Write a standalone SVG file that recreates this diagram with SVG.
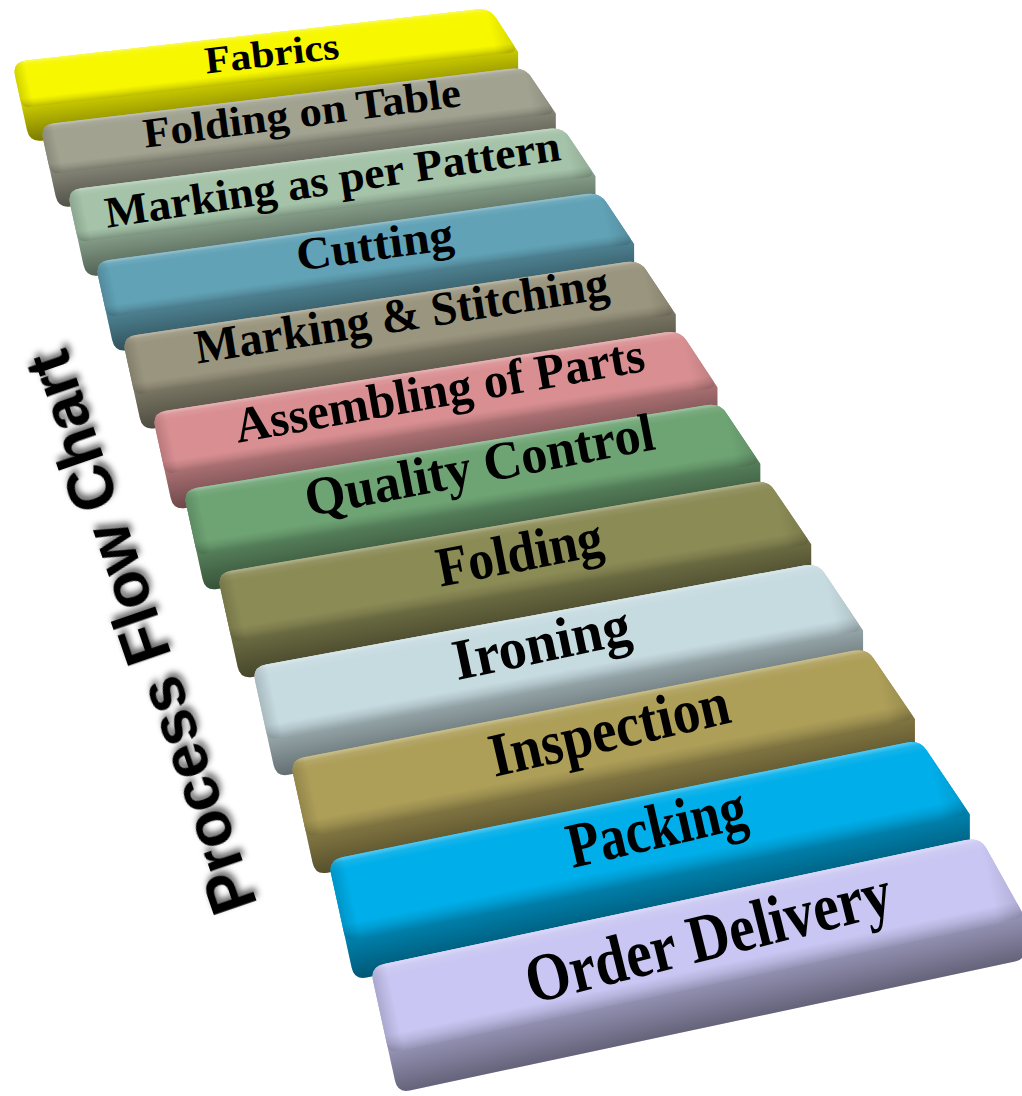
<svg xmlns="http://www.w3.org/2000/svg" width="1022" height="1096" viewBox="0 0 1022 1096">
  <defs>
    <style>
      .lbl { font-family: "Liberation Serif", "DejaVu Serif", serif; font-weight: bold; fill: #000; text-anchor: middle; }
      .title { font-family: "Liberation Sans", "DejaVu Sans", sans-serif; font-weight: bold; font-size: 64px; fill: #000; text-anchor: middle; }
    </style>
    <!-- darkening of the front face of each bar -->
    <linearGradient id="frontShade" x1="0" y1="0" x2="0" y2="1">
      <stop offset="0" stop-color="#000" stop-opacity="0"/>
      <stop offset="0.55" stop-color="#000" stop-opacity="0.18"/>
      <stop offset="1" stop-color="#000" stop-opacity="0.5"/>
    </linearGradient>
    <!-- rounded bevel on the top face -->
    <linearGradient id="topShade" x1="0" y1="0" x2="0" y2="1">
      <stop offset="0" stop-color="#fff" stop-opacity="0.35"/>
      <stop offset="0.06" stop-color="#fff" stop-opacity="0.08"/>
      <stop offset="0.15" stop-color="#fff" stop-opacity="0"/>
      <stop offset="0.8" stop-color="#000" stop-opacity="0"/>
      <stop offset="0.9" stop-color="#000" stop-opacity="0.1"/>
      <stop offset="1" stop-color="#000" stop-opacity="0.25"/>
    </linearGradient>
    <linearGradient id="sideShade" x1="0" y1="0" x2="1" y2="0">
      <stop offset="0" stop-color="#000" stop-opacity="0.15"/>
      <stop offset="0.025" stop-color="#000" stop-opacity="0"/>
      <stop offset="0.96" stop-color="#000" stop-opacity="0"/>
      <stop offset="1" stop-color="#000" stop-opacity="0.12"/>
    </linearGradient>
    <filter id="titleShadow" x="-20%" y="-20%" width="140%" height="140%">
      <feDropShadow dx="4" dy="3" stdDeviation="3" flood-color="#000" flood-opacity="0.6"/>
    </filter>
  </defs>

  <rect width="1022" height="1096" fill="#fff"/>

  <!-- 1 -->
  <g id="step-fabrics">
    <g transform="matrix(1,-0.113,0.22,1,12,62)">
      <path d="M0,14 Q0,0 14,0 L464,0 Q478,0 482,11 L496,46 L490.5,71 Q488.5,80 478.5,80 L12,80 Q0,80 0,68 Z" fill="#f5f500"/>
      <path d="M0,14 Q0,0 14,0 L464,0 Q478,0 482,11 L496,46 L490.5,71 Q488.5,80 478.5,80 L12,80 Q0,80 0,68 Z" fill="url(#frontShade)"/>
      <path d="M0,14 Q0,0 14,0 L464,0 Q478,0 482,11 L493,39 Q496,46 486,46 L8,46 Q0,46 0,38 Z" fill="#f7f700"/>
      <path d="M0,14 Q0,0 14,0 L464,0 Q478,0 482,11 L493,39 Q496,46 486,46 L8,46 Q0,46 0,38 Z" fill="url(#topShade)"/>
      <path d="M0,14 Q0,0 14,0 L464,0 Q478,0 482,11 L493,39 Q496,46 486,46 L8,46 Q0,46 0,38 Z" fill="url(#sideShade)"/>
    </g>
    <text class="lbl" font-size="38" textLength="135" lengthAdjust="spacingAndGlyphs" transform="translate(272,55) rotate(-6.5)" y="11">Fabrics</text>
  </g>

  <!-- 2 -->
  <g id="step-folding-on-table">
    <g transform="matrix(1,-0.1196,0.22,1,40,125)">
      <path d="M0,14 Q0,0 14,0 L471,0 Q485,0 489,11 L505,49 L499.5,74 Q497.5,83 487.5,83 L12,83 Q0,83 0,71 Z" fill="#a2a291"/>
      <path d="M0,14 Q0,0 14,0 L471,0 Q485,0 489,11 L505,49 L499.5,74 Q497.5,83 487.5,83 L12,83 Q0,83 0,71 Z" fill="url(#frontShade)"/>
      <path d="M0,14 Q0,0 14,0 L471,0 Q485,0 489,11 L502,42 Q505,49 495,49 L8,49 Q0,49 0,41 Z" fill="#a2a291"/>
      <path d="M0,14 Q0,0 14,0 L471,0 Q485,0 489,11 L502,42 Q505,49 495,49 L8,49 Q0,49 0,41 Z" fill="url(#topShade)"/>
      <path d="M0,14 Q0,0 14,0 L471,0 Q485,0 489,11 L502,42 Q505,49 495,49 L8,49 Q0,49 0,41 Z" fill="url(#sideShade)"/>
    </g>
    <text class="lbl" font-size="42" textLength="320" lengthAdjust="spacingAndGlyphs" transform="translate(302,115) rotate(-7.5)" y="12">Folding on Table</text>
  </g>

  <!-- 3 -->
  <g id="step-marking-pattern">
    <g transform="matrix(1,-0.127,0.22,1,67,190)">
      <path d="M0,14 Q0,0 14,0 L482,0 Q496,0 500,11 L517,52 L511.3,78 Q509.3,87 499.3,87 L12,87 Q0,87 0,75 Z" fill="#a5c3a9"/>
      <path d="M0,14 Q0,0 14,0 L482,0 Q496,0 500,11 L517,52 L511.3,78 Q509.3,87 499.3,87 L12,87 Q0,87 0,75 Z" fill="url(#frontShade)"/>
      <path d="M0,14 Q0,0 14,0 L482,0 Q496,0 500,11 L514,45 Q517,52 507,52 L8,52 Q0,52 0,44 Z" fill="#a5c3a9"/>
      <path d="M0,14 Q0,0 14,0 L482,0 Q496,0 500,11 L514,45 Q517,52 507,52 L8,52 Q0,52 0,44 Z" fill="url(#topShade)"/>
      <path d="M0,14 Q0,0 14,0 L482,0 Q496,0 500,11 L514,45 Q517,52 507,52 L8,52 Q0,52 0,44 Z" fill="url(#sideShade)"/>
    </g>
    <text class="lbl" font-size="44" textLength="460" lengthAdjust="spacingAndGlyphs" transform="translate(333,182) rotate(-8.5)" y="12">Marking as per Pattern</text>
  </g>

  <!-- 4 -->
  <g id="step-cutting">
    <g transform="matrix(1,-0.1386,0.22,1,95,262)">
      <path d="M0,14 Q0,0 14,0 L491,0 Q505,0 509,11 L527,55 L521.3,81 Q519.3,90 509.3,90 L12,90 Q0,90 0,78 Z" fill="#61a2b6"/>
      <path d="M0,14 Q0,0 14,0 L491,0 Q505,0 509,11 L527,55 L521.3,81 Q519.3,90 509.3,90 L12,90 Q0,90 0,78 Z" fill="url(#frontShade)"/>
      <path d="M0,14 Q0,0 14,0 L491,0 Q505,0 509,11 L524,48 Q527,55 517,55 L8,55 Q0,55 0,47 Z" fill="#61a2b6"/>
      <path d="M0,14 Q0,0 14,0 L491,0 Q505,0 509,11 L524,48 Q527,55 517,55 L8,55 Q0,55 0,47 Z" fill="url(#topShade)"/>
      <path d="M0,14 Q0,0 14,0 L491,0 Q505,0 509,11 L524,48 Q527,55 517,55 L8,55 Q0,55 0,47 Z" fill="url(#sideShade)"/>
    </g>
    <text class="lbl" font-size="46" textLength="158" lengthAdjust="spacingAndGlyphs" transform="translate(375,247) rotate(-8)" y="13">Cutting</text>
  </g>

  <!-- 5 -->
  <g id="step-marking-stitching">
    <g transform="matrix(1,-0.1486,0.22,1,122,337)">
      <path d="M0,14 Q0,0 14,0 L504,0 Q518,0 522,11 L541,58 L535.3,84 Q533.3,93 523.3,93 L12,93 Q0,93 0,81 Z" fill="#9a957e"/>
      <path d="M0,14 Q0,0 14,0 L504,0 Q518,0 522,11 L541,58 L535.3,84 Q533.3,93 523.3,93 L12,93 Q0,93 0,81 Z" fill="url(#frontShade)"/>
      <path d="M0,14 Q0,0 14,0 L504,0 Q518,0 522,11 L538,51 Q541,58 531,58 L8,58 Q0,58 0,50 Z" fill="#9a957e"/>
      <path d="M0,14 Q0,0 14,0 L504,0 Q518,0 522,11 L538,51 Q541,58 531,58 L8,58 Q0,58 0,50 Z" fill="url(#topShade)"/>
      <path d="M0,14 Q0,0 14,0 L504,0 Q518,0 522,11 L538,51 Q541,58 531,58 L8,58 Q0,58 0,50 Z" fill="url(#sideShade)"/>
    </g>
    <text class="lbl" font-size="48" textLength="418" lengthAdjust="spacingAndGlyphs" transform="translate(402,318) rotate(-9)" y="13">Marking &amp; Stitching</text>
  </g>

  <!-- 6 -->
  <g id="step-assembling">
    <g transform="matrix(1,-0.157,0.22,1,152,413)">
      <path d="M0,14 Q0,0 14,0 L514,0 Q528,0 532,11 L552,61 L546.1,88 Q544.1,97 534.1,97 L12,97 Q0,97 0,85 Z" fill="#d98f92"/>
      <path d="M0,14 Q0,0 14,0 L514,0 Q528,0 532,11 L552,61 L546.1,88 Q544.1,97 534.1,97 L12,97 Q0,97 0,85 Z" fill="url(#frontShade)"/>
      <path d="M0,14 Q0,0 14,0 L514,0 Q528,0 532,11 L549,54 Q552,61 542,61 L8,61 Q0,61 0,53 Z" fill="#d98f92"/>
      <path d="M0,14 Q0,0 14,0 L514,0 Q528,0 532,11 L549,54 Q552,61 542,61 L8,61 Q0,61 0,53 Z" fill="url(#topShade)"/>
      <path d="M0,14 Q0,0 14,0 L514,0 Q528,0 532,11 L549,54 Q552,61 542,61 L8,61 Q0,61 0,53 Z" fill="url(#sideShade)"/>
    </g>
    <text class="lbl" font-size="50" textLength="415" lengthAdjust="spacingAndGlyphs" transform="translate(440,393) rotate(-10)" y="14">Assembling of Parts</text>
  </g>

  <!-- 7 -->
  <g id="step-quality-control">
    <g transform="matrix(1,-0.162,0.22,1,183,490)">
      <path d="M0,14 Q0,0 14,0 L523,0 Q537,0 541,11 L563,65 L557.1,92 Q555.1,101 545.1,101 L12,101 Q0,101 0,89 Z" fill="#6ea474"/>
      <path d="M0,14 Q0,0 14,0 L523,0 Q537,0 541,11 L563,65 L557.1,92 Q555.1,101 545.1,101 L12,101 Q0,101 0,89 Z" fill="url(#frontShade)"/>
      <path d="M0,14 Q0,0 14,0 L523,0 Q537,0 541,11 L560,58 Q563,65 553,65 L8,65 Q0,65 0,57 Z" fill="#6ea474"/>
      <path d="M0,14 Q0,0 14,0 L523,0 Q537,0 541,11 L560,58 Q563,65 553,65 L8,65 Q0,65 0,57 Z" fill="url(#topShade)"/>
      <path d="M0,14 Q0,0 14,0 L523,0 Q537,0 541,11 L560,58 Q563,65 553,65 L8,65 Q0,65 0,57 Z" fill="url(#sideShade)"/>
    </g>
    <text class="lbl" font-size="54" textLength="355" lengthAdjust="spacingAndGlyphs" transform="translate(480,468) rotate(-11)" y="15">Quality Control</text>
  </g>

  <!-- 8 -->
  <g id="step-folding">
    <g transform="matrix(1,-0.169,0.22,1,217,573)">
      <path d="M0,14 Q0,0 14,0 L537,0 Q551,0 555,11 L579,69 L572.9,97 Q570.9,106 560.9,106 L12,106 Q0,106 0,94 Z" fill="#8b8b56"/>
      <path d="M0,14 Q0,0 14,0 L537,0 Q551,0 555,11 L579,69 L572.9,97 Q570.9,106 560.9,106 L12,106 Q0,106 0,94 Z" fill="url(#frontShade)"/>
      <path d="M0,14 Q0,0 14,0 L537,0 Q551,0 555,11 L576,62 Q579,69 569,69 L8,69 Q0,69 0,61 Z" fill="#8b8b56"/>
      <path d="M0,14 Q0,0 14,0 L537,0 Q551,0 555,11 L576,62 Q579,69 569,69 L8,69 Q0,69 0,61 Z" fill="url(#topShade)"/>
      <path d="M0,14 Q0,0 14,0 L537,0 Q551,0 555,11 L576,62 Q579,69 569,69 L8,69 Q0,69 0,61 Z" fill="url(#sideShade)"/>
    </g>
    <text class="lbl" font-size="56" textLength="168" lengthAdjust="spacingAndGlyphs" transform="translate(520,555) rotate(-11)" y="16">Folding</text>
  </g>

  <!-- 9 -->
  <g id="step-ironing">
    <g transform="matrix(1,-0.184,0.22,1,252,667)">
      <path d="M0,14 Q0,0 14,0 L552,0 Q566,0 570,11 L595,73 L588.9,101 Q586.9,110 576.9,110 L12,110 Q0,110 0,98 Z" fill="#c6dbe0"/>
      <path d="M0,14 Q0,0 14,0 L552,0 Q566,0 570,11 L595,73 L588.9,101 Q586.9,110 576.9,110 L12,110 Q0,110 0,98 Z" fill="url(#frontShade)"/>
      <path d="M0,14 Q0,0 14,0 L552,0 Q566,0 570,11 L592,66 Q595,73 585,73 L8,73 Q0,73 0,65 Z" fill="#c6dbe0"/>
      <path d="M0,14 Q0,0 14,0 L552,0 Q566,0 570,11 L592,66 Q595,73 585,73 L8,73 Q0,73 0,65 Z" fill="url(#topShade)"/>
      <path d="M0,14 Q0,0 14,0 L552,0 Q566,0 570,11 L592,66 Q595,73 585,73 L8,73 Q0,73 0,65 Z" fill="url(#sideShade)"/>
    </g>
    <text class="lbl" font-size="58" textLength="180" lengthAdjust="spacingAndGlyphs" transform="translate(542,646) rotate(-12)" y="16">Ironing</text>
  </g>

  <!-- 10 -->
  <g id="step-inspection">
    <g transform="matrix(1,-0.194,0.22,1,290,760)">
      <path d="M0,14 Q0,0 14,0 L563,0 Q577,0 581,11 L608,77 L601.6,106 Q599.6,115 589.6,115 L12,115 Q0,115 0,103 Z" fill="#ad9e58"/>
      <path d="M0,14 Q0,0 14,0 L563,0 Q577,0 581,11 L608,77 L601.6,106 Q599.6,115 589.6,115 L12,115 Q0,115 0,103 Z" fill="url(#frontShade)"/>
      <path d="M0,14 Q0,0 14,0 L563,0 Q577,0 581,11 L605,70 Q608,77 598,77 L8,77 Q0,77 0,69 Z" fill="#ad9e58"/>
      <path d="M0,14 Q0,0 14,0 L563,0 Q577,0 581,11 L605,70 Q608,77 598,77 L8,77 Q0,77 0,69 Z" fill="url(#topShade)"/>
      <path d="M0,14 Q0,0 14,0 L563,0 Q577,0 581,11 L605,70 Q608,77 598,77 L8,77 Q0,77 0,69 Z" fill="url(#sideShade)"/>
    </g>
    <text class="lbl" font-size="62" textLength="245" lengthAdjust="spacingAndGlyphs" transform="translate(610,733) rotate(-13)" y="17">Inspection</text>
  </g>

  <!-- 11 -->
  <g id="step-packing">
    <g transform="matrix(1,-0.203,0.22,1,328,860)">
      <path d="M0,14 Q0,0 14,0 L578,0 Q592,0 596,11 L624,81 L617.4,111 Q615.4,120 605.4,120 L12,120 Q0,120 0,108 Z" fill="#00aee9"/>
      <path d="M0,14 Q0,0 14,0 L578,0 Q592,0 596,11 L624,81 L617.4,111 Q615.4,120 605.4,120 L12,120 Q0,120 0,108 Z" fill="url(#frontShade)"/>
      <path d="M0,14 Q0,0 14,0 L578,0 Q592,0 596,11 L621,74 Q624,81 614,81 L8,81 Q0,81 0,73 Z" fill="#00aee9"/>
      <path d="M0,14 Q0,0 14,0 L578,0 Q592,0 596,11 L621,74 Q624,81 614,81 L8,81 Q0,81 0,73 Z" fill="url(#topShade)"/>
      <path d="M0,14 Q0,0 14,0 L578,0 Q592,0 596,11 L621,74 Q624,81 614,81 L8,81 Q0,81 0,73 Z" fill="url(#sideShade)"/>
    </g>
    <text class="lbl" font-size="64" textLength="182" lengthAdjust="spacingAndGlyphs" transform="translate(657,830) rotate(-13)" y="18">Packing</text>
  </g>

  <!-- 12 -->
  <g id="step-order-delivery">
    <g transform="matrix(1,-0.213,0.22,1,370,967)">
      <path d="M0,14 Q0,0 14,0 L596,0 Q610,0 613.5,11.5 L636,86 L629.2,117 Q627.2,126 617.2,126 L12,126 Q0,126 0,114 Z" fill="#c9c6f3"/>
      <path d="M0,14 Q0,0 14,0 L596,0 Q610,0 613.5,11.5 L636,86 L629.2,117 Q627.2,126 617.2,126 L12,126 Q0,126 0,114 Z" fill="url(#frontShade)"/>
      <path d="M0,14 Q0,0 14,0 L596,0 Q610,0 613.5,11.5 L634,79 Q636,86 626,86 L8,86 Q0,86 0,78 Z" fill="#c9c6f3"/>
      <path d="M0,14 Q0,0 14,0 L596,0 Q610,0 613.5,11.5 L634,79 Q636,86 626,86 L8,86 Q0,86 0,78 Z" fill="url(#topShade)"/>
      <path d="M0,14 Q0,0 14,0 L596,0 Q610,0 613.5,11.5 L634,79 Q636,86 626,86 L8,86 Q0,86 0,78 Z" fill="url(#sideShade)"/>
    </g>
    <text class="lbl" font-size="68" textLength="375" lengthAdjust="spacingAndGlyphs" transform="translate(709,940) rotate(-14)" y="19">Order Delivery</text>
  </g>

  <!-- vertical heading -->
  <g id="heading">
    <text class="title" textLength="590" lengthAdjust="spacingAndGlyphs" transform="translate(140,633) rotate(-109)" y="23" filter="url(#titleShadow)">Process Flow Chart</text>
  </g>
</svg>
